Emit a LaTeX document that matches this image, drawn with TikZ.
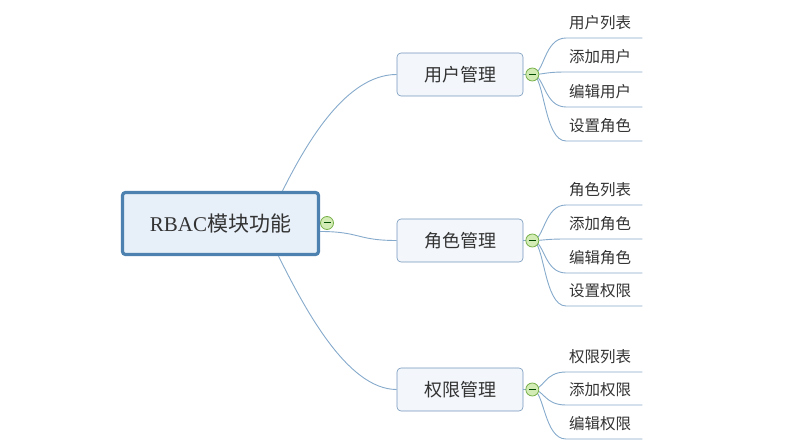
\documentclass[tikz,border=0pt]{standalone}
\usepackage{fontspec}
\newfontfamily\cjk{Noto Sans CJK SC}
\newfontfamily\latin{Liberation Serif}
\usetikzlibrary{positioning}
\definecolor{linkblue}{HTML}{86AACB}
\definecolor{rootedge}{HTML}{4D82B0}
\definecolor{rootfill}{HTML}{E7EFF9}
\definecolor{topicedge}{HTML}{7396BA}
\definecolor{topicfill}{HTML}{F3F7FC}
\definecolor{foldedge}{HTML}{78B04A}
\definecolor{foldfill}{HTML}{D3EBB5}
\definecolor{txt}{HTML}{333333}

\begin{document}
\begin{tikzpicture}[
    x=1pt, y=-1pt,
    rootbox/.style={
        rectangle,
        draw=rootedge,
        line width=3.2pt,
        fill=rootfill,
        rounded corners=3pt,
        minimum width=196pt,
        minimum height=62pt,
        text=txt,
        font=\cjk\fontsize{21}{21}\selectfont
    },
    topicbox/.style={
        rectangle,
        draw=topicedge,
        line width=0.6pt,
        fill=topicfill,
        rounded corners=4pt,
        minimum width=126pt,
        minimum height=43pt,
        text=txt,
        font=\cjk\fontsize{18}{18}\selectfont
    },
    leaf/.style={
        anchor=south west,
        text width=70pt,
        align=left,
        inner xsep=3pt,
        inner ysep=8pt,
        text=txt,
        font=\cjk\fontsize{15.5}{15.5}\selectfont
    },
    fold/.style={
        circle,
        draw=foldedge,
        fill=foldfill,
        line width=0.8pt,
        minimum size=13pt,
        inner sep=0pt,
        path picture={
            \draw[green!30!black, line width=1pt]
                ([xshift=3pt]path picture bounding box.west) --
                ([xshift=-3pt]path picture bounding box.east);
        }
    },
    link/.style={draw=linkblue, line width=0.9pt}
]
\useasboundingbox (0,0) rectangle (786,446);

% Main topics
\node[rootbox] (root) at (220.5,223.5) {{\latin RBAC}模块功能};

\node[topicbox] (user) at (460,74.5) {用户管理};
\node[topicbox] (role) at (460,240.5) {角色管理};
\node[topicbox] (perm) at (460,389.5) {权限管理};

% Leaves
\node[leaf] (userlist) at (566,38) {用户列表};
\node[leaf] (useradd) at (566,72) {添加用户};
\node[leaf] (useredit) at (566,107) {编辑用户};
\node[leaf] (userrole) at (566,141) {设置角色};

\node[leaf] (rolelist) at (566,205) {角色列表};
\node[leaf] (roleadd) at (566,239) {添加角色};
\node[leaf] (roleedit) at (566,273) {编辑角色};
\node[leaf] (roleperm) at (566,306) {设置权限};

\node[leaf] (permlist) at (566,372) {权限列表};
\node[leaf] (permadd) at (566,405) {添加权限};
\node[leaf] (permedit) at (566,439) {编辑权限};

% Root links
\draw[link] (root.north) ++(62,0) coordinate (rtop)
    .. controls +(25,-50) and +(-50,0) .. (user.west);
\draw[link] (root.east) ++(0,8) coordinate (rmid)
    .. controls +(40,0) and +(-40,0) .. (role.west);
\draw[link] (root.south) ++(58,0) coordinate (rbot)
    .. controls +(25,50) and +(-50,0) .. (perm.west);

% Topic links
\draw[link] (user.east) ++(9,0) coordinate (uhub);
\draw[link] (uhub) .. controls +(12,0) and +(-22,0) .. (userlist.south west) -- (userlist.south east);
\draw[link] (uhub) .. controls +(12,0) and +(-22,0) .. (useradd.south west) -- (useradd.south east);
\draw[link] (uhub) .. controls +(12,0) and +(-22,0) .. (useredit.south west) -- (useredit.south east);
\draw[link] (uhub) .. controls +(12,0) and +(-22,0) .. (userrole.south west) -- (userrole.south east);

\draw[link] (role.east) ++(9,0) coordinate (rhub);
\draw[link] (rhub) .. controls +(12,0) and +(-22,0) .. (rolelist.south west) -- (rolelist.south east);
\draw[link] (rhub) .. controls +(12,0) and +(-22,0) .. (roleadd.south west) -- (roleadd.south east);
\draw[link] (rhub) .. controls +(12,0) and +(-22,0) .. (roleedit.south west) -- (roleedit.south east);
\draw[link] (rhub) .. controls +(12,0) and +(-22,0) .. (roleperm.south west) -- (roleperm.south east);

\draw[link] (perm.east) ++(9,0) coordinate (phub);
\draw[link] (phub) .. controls +(12,0) and +(-22,0) .. (permlist.south west) -- (permlist.south east);
\draw[link] (phub) .. controls +(12,0) and +(-22,0) .. (permadd.south west) -- (permadd.south east);
\draw[link] (phub) .. controls +(12,0) and +(-22,0) .. (permedit.south west) -- (permedit.south east);

\draw[link] (user.east) -- (uhub);
\draw[link] (role.east) -- (rhub);
\draw[link] (perm.east) -- (phub);

% Fold markers
\node[fold] (rootfold) at (327,223) {};
\node[fold] (userfold) at (uhub) {};
\node[fold] (rolefold) at (rhub) {};
\node[fold] (permfold) at (phub) {};

\end{tikzpicture}
\end{document}
